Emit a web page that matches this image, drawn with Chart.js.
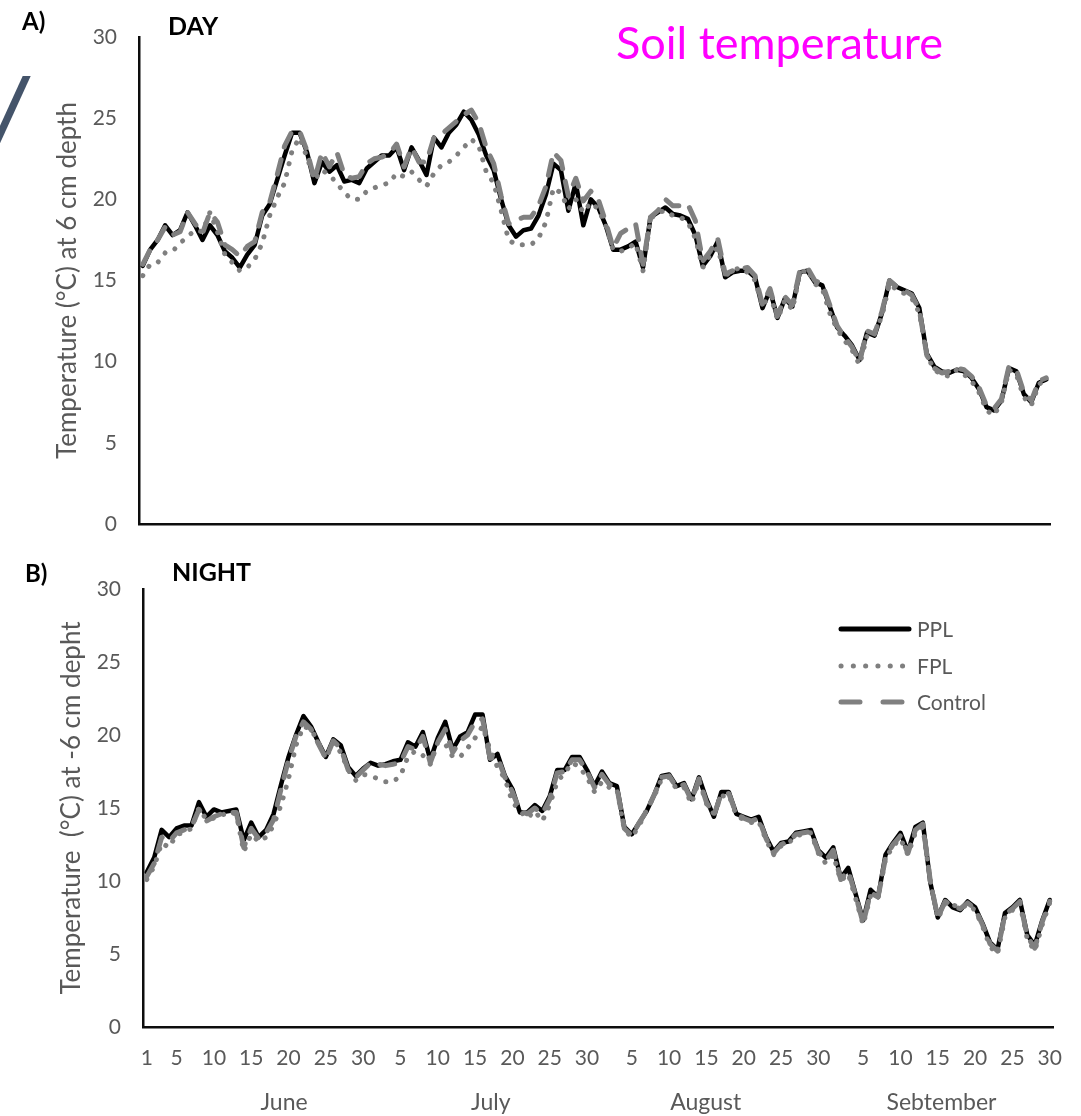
<!DOCTYPE html>
<html>
<head>
<meta charset="utf-8">
<title>Soil temperature</title>
<script src="https://cdn.jsdelivr.net/npm/chart.js@4/dist/chart.umd.min.js"></script>
<style>
  html, body { margin: 0; padding: 0; background: #fff; }
  body { width: 1081px; height: 1116px; position: relative; overflow: hidden; font-family: Lato, "Noto Sans", sans-serif; }
  canvas { position: absolute; left: 0; }
  #dayChart { top: 0; }
  #nightChart { top: 545px; }
  .lbl { position: absolute; line-height: 1; white-space: pre; }
  .panel { font-weight: bold; color: #000; font-size: 24px; }
  .big { color: #ff00ff; font-size: 45px; }
  .slash { position: absolute; left: 0; top: 76px; width: 31px; height: 68px; background: #44546a;
           clip-path: polygon(22.7px 0, 30.7px 0, 0 67.3px, 0 49.7px); }
</style>
</head>
<body>
<div class="slash"></div>
<canvas id="dayChart" width="1081" height="560"></canvas>
<canvas id="nightChart" width="1081" height="571"></canvas>
<div class="lbl panel" style="left:22px; top:9px;">A)</div>
<div class="lbl panel" style="left:168px; top:13px; font-size:25px;">DAY</div>
<div class="lbl big" style="left:616px; top:20px;">Soil temperature</div>
<div class="lbl panel" style="left:25px; top:561px;">B)</div>
<div class="lbl panel" style="left:172px; top:559px; font-size:25px;">NIGHT</div>
<script>
// ---- categories: every day from 1 June to 30 September ----
const monthNames = ['June', 'July', 'August', 'Sebtember'];
const monthLengths = [30, 31, 31, 30];
const labeledDays = [5, 10, 15, 20, 25, 30];   // day numbers printed under the axis (plus 1 June)
const yTickValues = [0, 5, 10, 15, 20, 25, 30];

// ---- daytime soil temperature (°C) at 6 cm depth ----
const dayPPL = [
  15.9,16.9,17.5,18.4,17.8,18.1,19.2,18.4,17.5,18.4,
  17.8,16.8,16.4,15.8,16.6,17.2,19.0,19.7,21.2,22.7,
  24.1,24.1,22.9,21.0,22.3,21.7,22.1,21.1,21.2,21.0,
  21.9,22.3,22.7,22.7,23.2,21.8,23.2,22.4,21.5,23.8,
  23.2,24.1,24.6,25.4,24.9,24.0,22.7,21.8,20.0,18.4,
  17.7,18.1,18.2,19.0,20.3,22.2,21.8,19.3,21.0,18.4,
  20.0,19.5,18.4,16.9,16.9,17.1,17.4,15.8,18.9,19.2,
  19.5,19.1,19.0,18.8,17.8,15.9,16.5,17.4,15.2,15.5,
  15.6,15.6,15.2,13.3,14.4,12.7,13.9,13.4,15.5,15.6,
  14.9,14.7,13.4,12.1,11.6,11.0,10.1,11.8,11.6,13.0,
  15.0,14.6,14.4,14.2,13.3,10.5,9.7,9.4,9.3,9.5,
  9.4,9.0,8.3,7.2,7.0,7.6,9.6,9.4,8.0,7.5,
  8.7,8.9
];
const dayFPL = [
  15.3,16.0,16.1,16.7,16.8,17.3,17.7,18.1,18.0,19.2,
  18.0,16.6,16.1,15.6,15.8,16.3,17.3,19.0,20.1,21.0,
  23.0,23.8,22.6,21.2,21.8,21.5,21.0,20.4,20.0,20.0,
  20.5,20.7,20.9,21.0,21.6,21.4,21.7,21.2,20.8,21.6,
  22.1,22.3,22.7,23.2,23.7,23.3,21.7,21.0,19.3,17.5,
  17.2,17.2,17.2,17.6,18.6,20.7,20.4,19.4,20.0,19.2,
  19.8,19.4,18.4,16.9,16.8,17.0,17.3,15.6,18.8,19.2,
  19.3,19.0,18.9,18.6,17.6,15.8,16.6,17.0,15.3,15.6,
  15.8,15.5,15.0,13.4,14.2,12.6,13.8,13.2,15.4,15.7,
  14.8,14.5,13.0,12.0,11.3,10.7,9.8,11.6,11.8,12.8,
  14.8,14.4,14.2,13.9,13.0,10.4,9.5,9.2,9.1,9.5,
  9.2,8.8,8.1,7.0,6.7,7.5,9.5,9.2,7.8,7.3,
  8.6,8.9
];
const dayControl = [
  16.0,16.9,17.5,18.3,17.8,18.0,19.2,18.5,17.9,19.2,
  18.6,17.2,16.9,16.5,17.1,17.4,19.2,19.8,21.5,23.3,
  24.2,24.2,23.0,21.2,22.9,22.0,22.9,21.5,21.3,21.4,
  22.2,22.5,22.6,22.8,23.4,22.0,23.2,22.3,22.3,23.8,
  24.0,24.4,24.8,25.2,25.5,24.7,23.2,22.2,20.2,18.5,
  18.7,18.9,18.9,19.6,20.8,22.9,22.4,20.2,21.3,19.9,
  20.5,20.0,18.6,17.0,17.9,18.2,18.5,16.0,18.9,19.3,
  20.0,19.6,19.6,19.7,18.7,16.2,16.8,17.6,15.4,15.6,
  15.7,15.8,15.3,13.5,14.5,12.8,14.0,13.5,15.6,15.8,
  15.0,14.8,13.5,12.2,11.5,10.9,10.0,11.9,11.7,13.1,
  15.0,14.6,14.4,14.1,13.2,10.4,9.6,9.3,9.4,9.6,
  9.5,9.1,8.4,7.3,7.1,7.7,9.7,9.5,8.1,7.6,
  8.8,9.0
];

// ---- night-time soil temperature (°C) at -6 cm depth ----
const nightPPL = [
  10.6,11.6,13.5,13.0,13.6,13.8,13.8,15.4,14.4,14.9,
  14.7,14.8,14.9,12.8,14.0,13.0,13.5,14.6,16.6,18.5,
  20.0,21.3,20.6,19.5,18.5,19.7,19.3,17.8,17.2,17.7,
  18.1,17.9,18.0,18.2,18.3,19.5,19.2,20.2,18.3,19.8,
  20.9,19.0,19.9,20.2,21.4,21.4,18.3,18.7,17.2,16.3,
  14.7,14.7,15.2,14.8,15.8,17.6,17.6,18.5,18.5,17.6,
  16.5,17.5,16.7,16.5,13.7,13.2,14.0,14.8,15.9,17.2,
  17.3,16.5,16.7,15.6,17.1,15.6,14.4,16.1,16.1,14.6,
  14.4,14.2,14.4,13.0,12.0,12.6,12.7,13.3,13.4,13.5,
  12.1,11.6,12.3,10.2,10.9,9.1,7.3,9.4,8.9,11.8,
  12.6,13.3,12.0,13.7,14.0,9.9,7.5,8.7,8.2,8.0,
  8.6,8.2,7.1,5.8,5.3,7.8,8.2,8.7,6.3,5.6,
  7.3,8.7
];
const nightFPL = [
  10.1,11.0,12.6,12.3,13.2,13.3,13.6,15.0,14.2,14.3,
  14.5,14.7,14.6,12.0,13.2,12.7,13.0,13.8,15.2,17.0,
  19.3,20.6,20.4,19.5,18.4,19.5,18.8,17.6,16.9,17.3,
  17.2,17.0,16.8,16.8,17.2,18.5,18.9,18.6,18.0,19.5,
  19.4,18.5,18.5,19.1,19.8,20.6,19.0,17.8,17.0,15.4,
  14.8,14.3,14.8,14.1,15.2,16.8,17.4,18.1,17.8,17.1,
  16.1,16.8,16.4,16.3,13.5,13.0,13.8,14.9,15.8,17.0,
  17.1,16.3,16.4,15.3,16.9,15.3,14.6,15.8,15.9,14.5,
  14.2,14.0,14.1,12.8,11.8,12.4,12.6,13.1,13.2,13.3,
  11.9,11.2,11.8,10.0,10.5,8.8,7.0,9.0,8.9,11.5,
  12.4,12.9,11.8,13.3,13.7,10.0,7.4,8.5,8.4,8.1,
  8.4,8.0,6.9,5.5,5.0,7.5,8.0,8.5,6.0,5.2,
  7.0,8.5
];
const nightControl = [
  10.3,11.2,13.0,12.7,13.3,13.5,13.7,14.9,14.1,14.4,
  14.6,14.7,14.7,12.3,13.6,12.9,13.3,14.2,16.3,18.3,
  19.9,20.9,20.4,19.4,18.4,19.6,19.1,17.6,17.1,17.6,
  18.1,18.0,17.9,18.0,18.1,19.2,19.0,19.9,18.1,19.5,
  20.4,18.8,19.6,20.0,20.9,21.1,18.4,18.5,17.1,16.1,
  14.8,14.6,15.0,14.6,15.6,17.4,17.5,18.3,18.3,17.5,
  16.4,17.3,16.6,16.4,13.6,13.1,14.0,14.8,15.9,17.1,
  17.2,16.4,16.6,15.5,17.0,15.4,14.5,16.0,16.0,14.6,
  14.3,14.1,14.3,12.9,11.9,12.5,12.7,13.2,13.3,13.4,
  12.0,11.4,12.1,10.1,10.7,9.0,7.1,9.2,8.9,11.6,
  12.5,13.1,11.9,13.5,13.9,10.0,7.5,8.6,8.3,8.1,
  8.5,8.1,7.0,5.7,5.2,7.7,8.1,8.6,6.2,5.4,
  7.2,8.6
];

// ---- derived category list ----
const dayEntries = [];
const monthStart = [];
monthLengths.forEach((n, m) => {
  monthStart.push(dayEntries.length);
  for (let d = 1; d <= n; d++) dayEntries.push({ m, d });
});
const dayLabels = dayEntries.map(e => String(e.d));

// ---- styling ----
const textGray = '#595959';
const axisColor = '#0d0d0d';
const fontFamily = 'Lato, "Noto Sans", sans-serif';
Chart.defaults.font.family = fontFamily;
Chart.defaults.color = textGray;

// centre of each month name, as a (fractional) day of that month
const monthLabelAnchor = [19.4, 17.1, 14.9, 15.5];

function seriesStyles(ppl, fpl, ctrl) {
  return [
    { label: 'PPL', data: ppl, borderColor: '#000000', borderWidth: 4.5,
      borderCapStyle: 'round', order: 3 },
    { label: 'FPL', data: fpl, borderColor: '#7f7f7f', borderWidth: 5,
      borderDash: [0.1, 11], borderCapStyle: 'round', order: 2 },
    { label: 'Control', data: ctrl, borderColor: '#808080', borderWidth: 5,
      borderDash: [15, 13], borderCapStyle: 'round', order: 1 }
  ];
}

function buildChart(canvasId, cfg) {
  return new Chart(document.getElementById(canvasId), {
    type: 'line',
    data: { labels: dayLabels, datasets: cfg.datasets },
    options: {
      responsive: false,
      animation: false,
      devicePixelRatio: 1,
      layout: { padding: { top: cfg.padTop, right: cfg.padRight, left: 0, bottom: 0 } },
      elements: {
        point: { radius: 0, hoverRadius: 0 },
        line: { tension: 0, borderJoinStyle: 'round', fill: false }
      },
      plugins: { legend: { display: false }, tooltip: { enabled: false } },
      events: [],
      scales: {
        x: {
          type: 'category',
          offset: true,
          grid: { display: false, drawTicks: false },
          border: { display: true, color: axisColor, width: 2.5 },
          ticks: {
            display: cfg.showDays,
            autoSkip: false,
            maxRotation: 0,
            padding: 19,
            color: textGray,
            font: { size: 21 },
            callback: (v, i) => {
              const e = dayEntries[i];
              return (i === 0 || labeledDays.includes(e.d)) ? String(e.d) : '';
            }
          },
          afterFit: s => { s.height = cfg.xHeight; }
        },
        y: {
          min: 0, max: 30,
          afterBuildTicks: s => { s.ticks = yTickValues.map(v => ({ value: v })); },
          grid: { display: false, drawTicks: false },
          border: { display: true, color: axisColor, width: 2.5 },
          ticks: { padding: 22, color: textGray, font: { size: 21 } },
          title: {
            display: true, text: cfg.yTitle, color: textGray,
            font: { size: 26 }, padding: { top: cfg.titlePad, bottom: 0 }
          },
          afterFit: s => { s.width = cfg.yWidth; }
        }
      }
    },
    plugins: cfg.plugins || []
  });
}

// month names and series key for the lower panel
const nightExtras = {
  id: 'nightExtras',
  afterDraw(chart) {
    const { ctx } = chart;
    const x = chart.scales.x;
    ctx.save();
    ctx.fillStyle = textGray;
    ctx.font = '23px ' + fontFamily;
    ctx.textAlign = 'center';
    ctx.textBaseline = 'alphabetic';
    monthNames.forEach((name, m) => {
      const idx = monthStart[m] + monthLabelAnchor[m] - 1;
      ctx.fillText(name, x.getPixelForValue(idx), 565);
    });

    // key: sample line followed by the series name
    const rows = [84, 121, 157];
    chart.data.datasets.forEach((ds, k) => {
      const y = rows[k];
      ctx.beginPath();
      ctx.strokeStyle = ds.borderColor;
      ctx.lineWidth = 5;
      ctx.lineCap = 'round';
      ctx.setLineDash(k === 0 ? [] : (k === 1 ? [0.1, 12.2] : [19, 23]));
      ctx.moveTo(841, y);
      ctx.lineTo(909, y);
      ctx.stroke();
      ctx.setLineDash([]);
      ctx.fillStyle = textGray;
      ctx.font = '21px ' + fontFamily;
      ctx.textAlign = 'left';
      ctx.fillText(ds.label, 917, y + 8);
    });
    ctx.restore();
  }
};

buildChart('dayChart', {
  datasets: seriesStyles(dayPPL, dayFPL, dayControl),
  padTop: 37, padRight: 31, xHeight: 36, yWidth: 139,
  showDays: false,
  yTitle: 'Temperature (°C) at 6 cm depth', titlePad: 52
});

buildChart('nightChart', {
  datasets: seriesStyles(nightPPL, nightFPL, nightControl),
  padTop: 44, padRight: 25, xHeight: 89, yWidth: 143,
  showDays: true,
  yTitle: 'Temperature  (°C) at -6 cm depht', titlePad: 56,
  plugins: [nightExtras]
});
</script>
</body>
</html>
